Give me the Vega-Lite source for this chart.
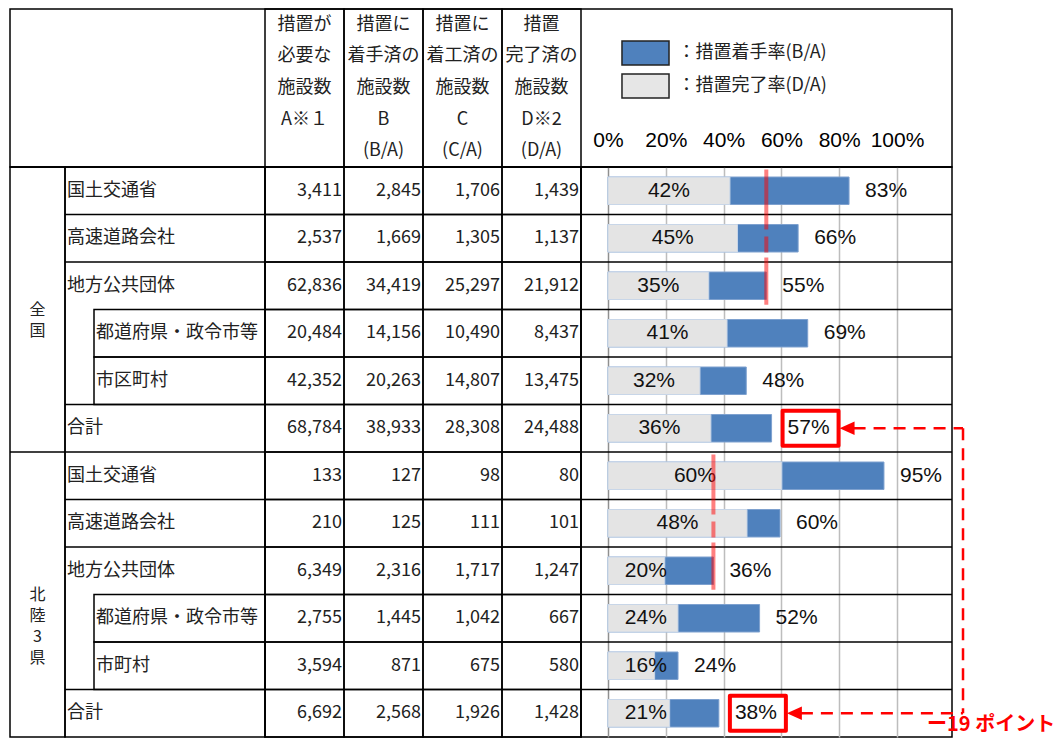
{
  "$schema": "https://vega.github.io/schema/vega-lite/v6.json",
  "padding": {"left": 8, "top": 7, "right": 0, "bottom": 0},
  "background": "#ffffff",
  "config": {
    "font": "Noto Sans CJK JP",
    "view": {"stroke": "#000000", "strokeWidth": 1.5},
    "text": {"color": "#222222"}
  },
  "datasets": {
    "t": [
      {"no": 1, "g": "全国", "name": "国土交通省", "lv": 0, "A": 3411, "B": 2845, "C": 1706, "D": 1439, "rB": 0.8341, "rD": 0.4219},
      {"no": 2, "g": "全国", "name": "高速道路会社", "lv": 0, "A": 2537, "B": 1669, "C": 1305, "D": 1137, "rB": 0.6579, "rD": 0.4482},
      {"no": 3, "g": "全国", "name": "地方公共団体", "lv": 0, "A": 62836, "B": 34419, "C": 25297, "D": 21912, "rB": 0.5478, "rD": 0.3487},
      {"no": 4, "g": "全国", "name": "都道府県・政令市等", "lv": 1, "A": 20484, "B": 14156, "C": 10490, "D": 8437, "rB": 0.6911, "rD": 0.4119},
      {"no": 5, "g": "全国", "name": "市区町村", "lv": 1, "A": 42352, "B": 20263, "C": 14807, "D": 13475, "rB": 0.4784, "rD": 0.3182},
      {"no": 6, "g": "全国", "name": "合計", "lv": 0, "A": 68784, "B": 38933, "C": 28308, "D": 24488, "rB": 0.5660, "rD": 0.3560},
      {"no": 7, "g": "北陸3県", "name": "国土交通省", "lv": 0, "A": 133, "B": 127, "C": 98, "D": 80, "rB": 0.9549, "rD": 0.6015},
      {"no": 8, "g": "北陸3県", "name": "高速道路会社", "lv": 0, "A": 210, "B": 125, "C": 111, "D": 101, "rB": 0.5952, "rD": 0.4810},
      {"no": 9, "g": "北陸3県", "name": "地方公共団体", "lv": 0, "A": 6349, "B": 2316, "C": 1717, "D": 1247, "rB": 0.3648, "rD": 0.1964},
      {"no": 10, "g": "北陸3県", "name": "都道府県・政令市等", "lv": 1, "A": 2755, "B": 1445, "C": 1042, "D": 667, "rB": 0.5245, "rD": 0.2421},
      {"no": 11, "g": "北陸3県", "name": "市町村", "lv": 1, "A": 3594, "B": 871, "C": 675, "D": 580, "rB": 0.2423, "rD": 0.1614},
      {"no": 12, "g": "北陸3県", "name": "合計", "lv": 0, "A": 6692, "B": 2568, "C": 1926, "D": 1428, "rB": 0.3837, "rD": 0.2134}
    ],
    "h": [
      {"col": "A", "line": 1, "t": "措置が"},
      {"col": "A", "line": 2, "t": "必要な"},
      {"col": "A", "line": 3, "t": "施設数"},
      {"col": "A", "line": 4, "t": "A※１"},
      {"col": "B", "line": 1, "t": "措置に"},
      {"col": "B", "line": 2, "t": "着手済の"},
      {"col": "B", "line": 3, "t": "施設数"},
      {"col": "B", "line": 4, "t": "B"},
      {"col": "B", "line": 5, "t": "(B/A)"},
      {"col": "C", "line": 1, "t": "措置に"},
      {"col": "C", "line": 2, "t": "着工済の"},
      {"col": "C", "line": 3, "t": "施設数"},
      {"col": "C", "line": 4, "t": "C"},
      {"col": "C", "line": 5, "t": "(C/A)"},
      {"col": "D", "line": 1, "t": "措置"},
      {"col": "D", "line": 2, "t": "完了済の"},
      {"col": "D", "line": 3, "t": "施設数"},
      {"col": "D", "line": 4, "t": "D※2"},
      {"col": "D", "line": 5, "t": "(D/A)"}
    ]
  },
  "spacing": 0,
  "bounds": "flush",
  "resolve": {"scale": {"color": "independent"}, "legend": {"color": "independent"}},
  "vconcat": [
    {
      "width": 942,
      "height": 158,
      "resolve": {"scale": {"x": "independent"}, "axis": {"x": "independent"}},
      "layer": [
        {
          "data": {"name": "h"},
          "transform": [{"aggregate": [{"op": "count", "as": "n"}], "groupby": ["col"]}],
          "mark": {"type": "rect", "fill": "transparent", "stroke": "#000000", "strokeWidth": 1.5},
          "encoding": {
            "x": {"field": "col", "type": "nominal", "axis": null, "scale": {"type": "band", "range": [255, 571], "paddingInner": 0, "paddingOuter": 0}}
          }
        },
        {
          "data": {"name": "h"},
          "mark": {"type": "text", "fontSize": 18, "color": "#222222"},
          "encoding": {
            "x": {"field": "col", "type": "nominal", "axis": null, "scale": {"type": "band", "range": [255, 571], "paddingInner": 0, "paddingOuter": 0}},
            "y": {"field": "line", "type": "ordinal", "axis": null, "scale": {"type": "band", "paddingInner": 0, "paddingOuter": 0}},
            "text": {"field": "t"}
          }
        },
        {
          "data": {"values": [{"s": "措置着手率(B/A)"}, {"s": "措置完了率(D/A)"}]},
          "mark": {"type": "point", "size": 0, "filled": true, "strokeWidth": 0},
          "encoding": {
            "x": {
              "datum": 0,
              "type": "quantitative",
              "scale": {"domain": [-0.0934, 1.1903], "range": [571, 942], "nice": false, "zero": false},
              "axis": {"orient": "bottom", "values": [0, 0.2, 0.4, 0.6, 0.8, 1], "format": ".0%", "labelFont": "Liberation Sans", "labelFontSize": 21, "labelColor": "#000000", "ticks": false, "tickSize": 0, "domain": false, "grid": false, "title": null, "offset": -38, "labelPadding": 0, "labelFlush": false, "labelOverlap": false}
            },
            "color": {
              "field": "s",
              "type": "nominal",
              "scale": {"domain": ["措置着手率(B/A)", "措置完了率(D/A)"], "range": ["#4F81BD", "#E6E6E6"]},
              "legend": {"title": null, "orient": "none", "legendX": 612, "legendY": 31, "direction": "vertical", "symbolType": "M-1.96,-1H1.96V1H-1.96Z", "symbolSize": 576, "symbolStrokeColor": "#222222", "symbolStrokeWidth": 1.5, "symbolOpacity": 1, "symbolOffset": 10.5, "labelOffset": 19, "rowPadding": 3, "padding": 0, "labelFont": "Noto Sans CJK JP", "labelFontSize": 18, "labelColor": "#222222", "labelLimit": 300, "labelExpr": "'：' + datum.label"}
            }
          }
        }
      ]
    },
    {
      "spacing": 0,
      "bounds": "flush",
      "hconcat": [
        {
          "width": 55,
          "height": 570,
          "data": {"name": "t"},
          "transform": [
            {"aggregate": [{"op": "count", "as": "n"}], "groupby": ["g"]},
            {"calculate": "split(datum.g, '')", "as": "chars"}
          ],
          "layer": [
            {
              "mark": {"type": "rule", "stroke": "#000000", "strokeWidth": 1.5},
              "encoding": {"y": {"field": "g", "type": "nominal", "bandPosition": 0, "axis": null, "scale": {"type": "band", "paddingInner": 0, "paddingOuter": 0}}}
            },
            {
              "mark": {"type": "text", "fontSize": 16, "lineHeight": 21, "color": "#222222"},
              "encoding": {
                "y": {"field": "g", "type": "nominal", "axis": null},
                "text": {"field": "chars"}
              }
            }
          ]
        },
        {
          "width": 200,
          "height": 570,
          "data": {"name": "t"},
          "layer": [
            {
              "transform": [{"filter": "datum.lv == 0"}],
              "mark": {"type": "rule", "stroke": "#000000", "strokeWidth": 1.5},
              "encoding": {"y": {"field": "no", "type": "ordinal", "bandPosition": 0, "axis": null, "scale": {"type": "band", "paddingInner": 0, "paddingOuter": 0}}}
            },
            {
              "transform": [{"filter": "datum.lv == 1"}],
              "mark": {"type": "rect", "fill": "transparent", "stroke": "#000000", "strokeWidth": 1.5},
              "encoding": {
                "y": {"field": "no", "type": "ordinal", "axis": null},
                "x": {"field": "lv", "type": "quantitative", "axis": null, "scale": {"domain": [0, 1], "range": [0, 29], "zero": false, "nice": false}},
                "x2": {"value": "width"}
              }
            },
            {
              "mark": {"type": "text", "align": "left", "dx": 2, "fontSize": 18, "color": "#222222"},
              "encoding": {
                "y": {"field": "no", "type": "ordinal", "axis": null},
                "x": {"field": "lv", "type": "quantitative", "axis": null},
                "text": {"field": "name"}
              }
            }
          ]
        },
        {
          "width": 316,
          "height": 570,
          "data": {"name": "t"},
          "transform": [{"fold": ["A", "B", "C", "D"], "as": ["col", "v"]}],
          "encoding": {
            "x": {"field": "col", "type": "nominal", "axis": null, "scale": {"type": "band", "paddingInner": 0, "paddingOuter": 0}},
            "y": {"field": "no", "type": "ordinal", "axis": null, "scale": {"type": "band", "paddingInner": 0, "paddingOuter": 0}}
          },
          "layer": [
            {"mark": {"type": "rect", "fill": "transparent", "stroke": "#000000", "strokeWidth": 1.5}},
            {
              "mark": {"type": "text", "align": "right", "dx": -2, "fontSize": 18, "color": "#222222"},
              "encoding": {
                "x": {"field": "col", "type": "nominal", "bandPosition": 1, "axis": null},
                "text": {"field": "v", "type": "quantitative", "format": ","}
              }
            }
          ]
        },
        {
          "width": 371,
          "height": 570,
          "data": {"name": "t"},
          "layer": [
            {
              "mark": {"type": "rule", "stroke": "#000000", "strokeWidth": 1.5},
              "encoding": {"y": {"field": "no", "type": "ordinal", "bandPosition": 0, "axis": null, "scale": {"type": "band", "paddingInner": 0, "paddingOuter": 0}}}
            },
            {
              "mark": {"type": "bar", "height": 27.5, "fill": "#4F81BD", "stroke": "#7EA1CF", "strokeWidth": 1},
              "encoding": {
                "y": {"field": "no", "type": "ordinal", "axis": null},
                "x": {
                  "field": "rB",
                  "type": "quantitative",
                  "scale": {"domain": [-0.0934, 1.1903], "nice": false, "zero": false},
                  "axis": {"grid": true, "values": [0, 0.2, 0.4, 0.6, 0.8, 1], "labels": false, "ticks": false, "domain": false, "title": null, "gridColor": {"condition": {"test": "datum.value === 0", "value": "#8f8f8f"}, "value": "#bdbdbd"}, "gridWidth": 1.5}
                }
              }
            },
            {
              "mark": {"type": "bar", "height": 27.5, "fill": "#E4E4E4", "stroke": "#C8D6E8", "strokeWidth": 1},
              "encoding": {
                "y": {"field": "no", "type": "ordinal", "axis": null},
                "x": {"field": "rD", "type": "quantitative"}
              }
            },
            {
              "transform": [{"calculate": "max(datum.rD / 2, 0.131)", "as": "lp"}],
              "mark": {"type": "text", "font": "Liberation Sans", "fontSize": 21, "color": "#111111"},
              "encoding": {
                "y": {"field": "no", "type": "ordinal", "axis": null},
                "x": {"field": "lp", "type": "quantitative"},
                "text": {"field": "rD", "type": "quantitative", "format": ".0%"}
              }
            },
            {
              "transform": [{"filter": "datum.name == '合計'"}],
              "mark": {"type": "point", "shape": "M0.55,-0.875H3.35V0.875H0.55Z", "size": 1600, "filled": true, "fill": "#ffffff", "stroke": "#ff0000", "strokeWidth": 4, "opacity": 1, "strokeJoin": "round"},
              "encoding": {
                "y": {"field": "no", "type": "ordinal", "axis": null},
                "x": {"field": "rB", "type": "quantitative"}
              }
            },
            {
              "mark": {"type": "text", "align": "left", "dx": 16, "font": "Liberation Sans", "fontSize": 21, "color": "#111111"},
              "encoding": {
                "y": {"field": "no", "type": "ordinal", "axis": null},
                "x": {"field": "rB", "type": "quantitative"},
                "text": {"field": "rB", "type": "quantitative", "format": ".0%"}
              }
            },
            {
              "transform": [{"filter": "datum.name == '地方公共団体'"}, {"calculate": "datum.no - 2", "as": "top"}],
              "mark": {"type": "rule", "stroke": "#ff0000", "strokeOpacity": 0.5, "strokeWidth": 4, "strokeDash": [60, 7, 16, 5]},
              "encoding": {
                "x": {"field": "rB", "type": "quantitative"},
                "y": {"field": "top", "type": "ordinal", "bandPosition": 0.05, "axis": null},
                "y2": {"field": "no", "bandPosition": 0.9}
              }
            },
            {
              "transform": [{"filter": "datum.name == '合計'"}],
              "mark": {"type": "point", "shape": "M0,0L1,-0.45L1,0.45Z", "size": 900, "filled": true, "fill": "#ff0000", "strokeWidth": 0, "opacity": 1, "xOffset": 68},
              "encoding": {
                "y": {"field": "no", "type": "ordinal", "axis": null},
                "x": {"field": "rB", "type": "quantitative"}
              }
            },
            {
              "transform": [{"filter": "datum.name == '合計'"}],
              "mark": {"type": "rule", "stroke": "#ff0000", "strokeWidth": 2.5, "strokeDash": [12, 8], "xOffset": 82},
              "encoding": {
                "y": {"field": "no", "type": "ordinal", "axis": null},
                "x": {"field": "rB", "type": "quantitative"},
                "x2": {"datum": 1.2284}
              }
            },
            {
              "transform": [{"filter": "datum.g == '全国' && datum.name == '合計'"}, {"calculate": "datum.no + 6", "as": "no2"}],
              "mark": {"type": "rule", "stroke": "#ff0000", "strokeWidth": 2.5, "strokeDash": [12, 8]},
              "encoding": {
                "x": {"datum": 1.2284, "type": "quantitative"},
                "y": {"field": "no", "type": "ordinal", "axis": null},
                "y2": {"field": "no2"}
              }
            },
            {
              "transform": [{"filter": "datum.g == '全国' && datum.name == '合計'"}, {"calculate": "datum.no + 6", "as": "no2"}],
              "mark": {"type": "text", "text": "ー19 ポイント", "align": "left", "dx": -36, "dy": 12, "fontSize": 20, "fontWeight": "bold", "color": "#ff0000", "font": "Noto Sans CJK JP"},
              "encoding": {
                "x": {"datum": 1.2284, "type": "quantitative"},
                "y": {"field": "no2", "type": "ordinal", "axis": null}
              }
            }
          ]
        }
      ]
    }
  ]
}
